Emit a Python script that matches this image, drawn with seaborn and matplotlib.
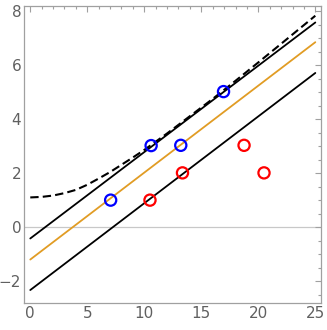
import numpy as np
import pandas as pd
import seaborn as sns
import matplotlib.pyplot as plt
from matplotlib.ticker import MultipleLocator

# Puntos de las dos clases
azul_x = [7.05, 10.6, 13.2, 16.95]
azul_y = [1.0, 3.02, 3.03, 5.02]
rojo_x = [10.5, 13.35, 18.75, 20.5]
rojo_y = [1.0, 2.01, 3.03, 2.01]

# Rectas (extremos)
recta_x = [0, 25]
recta_sup = [-0.42, 7.58]
recta_media = [-1.2, 6.85]
recta_inf = [-2.33, 5.71]

# Curva discontinua
curva_x = [0, 1, 2, 3, 4, 5, 6, 7, 8, 9, 10, 12, 14, 16, 18, 20, 22, 25]
curva_y = [1.10, 1.12, 1.17, 1.26, 1.38, 1.57, 1.80, 2.04, 2.31, 2.58, 2.86,
           3.47, 4.11, 4.75, 5.42, 6.10, 6.79, 7.83]

sns.set_style("white")
fig = plt.figure(figsize=(3.27, 3.30), dpi=100)
ax = fig.add_axes([0.0734, 0.0818, 0.9083, 0.9000])

ax.axhline(0, color="#c8c8c8", lw=0.9, zorder=0)

sns.lineplot(x=curva_x, y=curva_y, ax=ax, color="black", lw=1.5, linestyle=(0, (4, 2)))
sns.lineplot(x=recta_x, y=recta_sup, ax=ax, color="black", lw=1.3)
sns.lineplot(x=recta_x, y=recta_media, ax=ax, color="#e19c24", lw=1.3)
sns.lineplot(x=recta_x, y=recta_inf, ax=ax, color="black", lw=1.3)

sns.scatterplot(x=azul_x, y=azul_y, ax=ax, s=65, facecolor="none", edgecolor="#0000ff", linewidth=1.6, zorder=5)
sns.scatterplot(x=rojo_x, y=rojo_y, ax=ax, s=65, facecolor="none", edgecolor="#ff0000", linewidth=1.6, zorder=5)

ax.set_xlim(-0.55, 25.5)
ax.set_ylim(-2.81, 8.19)
ax.xaxis.set_major_locator(MultipleLocator(5))
ax.xaxis.set_minor_locator(MultipleLocator(1))
ax.yaxis.set_major_locator(MultipleLocator(2))
ax.yaxis.set_minor_locator(MultipleLocator(0.5))
ax.set_yticks([-2, 0, 2, 4, 6, 8])
ax.set_yticklabels(["\u22122", "0", "2", "4", "6", "8"])

for s in ax.spines.values():
    s.set_color("#a0a0a0")
    s.set_linewidth(0.9)
ax.tick_params(which="both", direction="in", top=True, right=True, color="#a0a0a0",
               labelcolor="#606060", labelsize=11, width=0.8)
ax.tick_params(which="major", length=4, pad=2)
ax.tick_params(which="minor", length=2)

plt.savefig("out.png", dpi=100)
